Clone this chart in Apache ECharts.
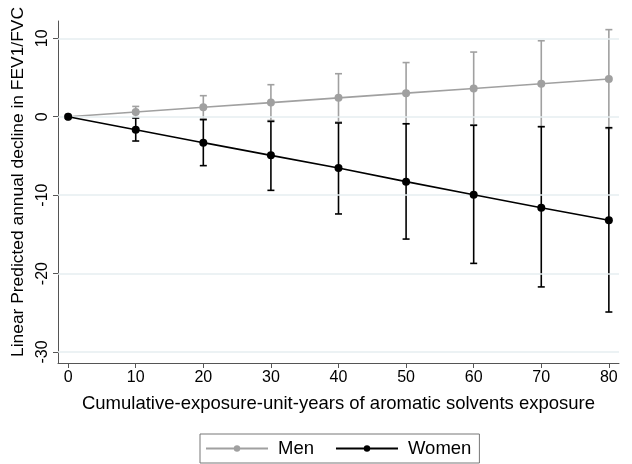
<!DOCTYPE html>
<html><head><meta charset="utf-8">
<script src="https://cdn.jsdelivr.net/npm/echarts@6/dist/echarts.min.js"></script>
<style>html,body{margin:0;padding:0;background:#fff}#c{width:632px;height:464px}</style>
</head><body><div id="c"></div>
<script>
var xValues = [0, 10, 20, 30, 40, 50, 60, 70, 80];
var menMean = [0, 0.6, 1.2, 1.8, 2.4, 3.0, 3.6, 4.2, 4.8];
var menLow  = [0, -0.11, -0.28, -0.48, -0.68, -0.9, -1.04, -1.28, -1.5];
var menHigh = [0, 1.31, 2.68, 4.08, 5.48, 6.9, 8.24, 9.68, 11.1];
var womenMean = [0, -1.66, -3.31, -4.93, -6.54, -8.28, -9.94, -11.6, -13.2];
var womenLow  = [0, -3.1, -6.24, -9.39, -12.4, -15.6, -18.7, -21.7, -24.9];
var womenHigh = [0, -0.17, -0.38, -0.6, -0.8, -0.9, -1.1, -1.27, -1.4];
var yTicks = [-30, -20, -10, 0, 10];
var xTicks = [0, 10, 20, 30, 40, 50, 60, 70, 80];

var FONT = 'Liberation Sans, Arial, sans-serif';
var GRAY = '#a0a0a0', BLACK = '#000000';

function pairs(xs, ys){ return xs.map(function(x,i){return [x, ys[i]];}); }
function ciData(xs, lo, hi){
  var out = [];
  xs.forEach(function(x,i){ if (x !== 0) out.push([x, lo[i], hi[i]]); });
  return out;
}
function errRender(color){
  return function(params, api){
    var x = api.value(0);
    var p1 = api.coord([x, api.value(1)]);
    var p2 = api.coord([x, api.value(2)]);
    var hw = 3.5;
    var st = {stroke: color, lineWidth: 1.6};
    return {type:'group', children:[
      {type:'line', shape:{x1:p1[0], y1:p1[1], x2:p2[0], y2:p2[1]}, style:st},
      {type:'line', shape:{x1:p1[0]-hw, y1:p1[1], x2:p1[0]+hw, y2:p1[1]}, style:st},
      {type:'line', shape:{x1:p2[0]-hw, y1:p2[1], x2:p2[0]+hw, y2:p2[1]}, style:st}
    ]};
  };
}

var chart = echarts.init(document.getElementById('c'), null, {renderer:'canvas'});
chart.setOption({
  animation: false,
  backgroundColor: '#fff',
  grid: {left: 58, right: 13, top: 21, bottom: 101, containLabel: false, outerBoundsMode: 'none'},
  xAxis: {
    type: 'value', min: -1.5, max: 81.5,
    name: 'Cumulative-exposure-unit-years of aromatic solvents exposure',
    nameLocation: 'middle', nameGap: 31,
    nameTextStyle: {fontFamily: FONT, fontSize: 18.5, color: '#000'},
    axisLine: {show: true, onZero: false, lineStyle: {color: '#555', width: 1}},
    axisTick: {show: true, length: 5, lineStyle: {color: '#555'}, customValues: xTicks},
    axisLabel: {fontFamily: FONT, fontSize: 16, color: '#000', margin: 7, customValues: xTicks},
    splitLine: {show: false}
  },
  yAxis: {
    type: 'value', min: -31.4, max: 12.2,
    name: 'Linear Predicted annual decline in FEV1/FVC',
    nameLocation: 'middle', nameGap: 29,
    nameTextStyle: {fontFamily: FONT, fontSize: 17.4, color: '#000', padding: [0, 0, 0, 20]},
    axisLine: {show: true, onZero: false, lineStyle: {color: '#555', width: 1}},
    axisTick: {show: true, length: 5, lineStyle: {color: '#555'}, customValues: yTicks},
    axisLabel: {fontFamily: FONT, fontSize: 16, color: '#000', rotate: 90, margin: 7, customValues: yTicks},
    splitLine: {show: false}
  },
  legend: {
    bottom: 1, left: 200,
    data: ['Men', 'Women'],
    itemWidth: 62, itemHeight: 8, itemGap: 21,
    borderColor: '#777', borderWidth: 1, borderRadius: 0,
    padding: [5, 8, 5, 5],
    textStyle: {fontFamily: FONT, fontSize: 18.5, color: '#000', padding: [0, 0, 0, 5]}
  },
  series: [
    {type:'line', name:'grid', data: [], silent: true, z: 1,
     markLine: {silent: true, symbol: 'none', label: {show: false},
       lineStyle: {color: '#e6eef0', width: 1.5, type: 'solid'},
       data: yTicks.map(function(v){ return {yAxis: v}; })}},
    {type:'custom', name:'menCI', renderItem: errRender(GRAY), data: ciData(xValues, menLow, menHigh), z: 2, silent: true},
    {type:'line', name:'Men', data: pairs(xValues, menMean), symbol:'circle', symbolSize: 8,
     itemStyle:{color: GRAY}, lineStyle:{color: GRAY, width: 1.6}, z: 3},
    {type:'custom', name:'womenCI', renderItem: errRender(BLACK), data: ciData(xValues, womenLow, womenHigh), z: 4, silent: true},
    {type:'line', name:'Women', data: pairs(xValues, womenMean), symbol:'circle', symbolSize: 8,
     itemStyle:{color: BLACK}, lineStyle:{color: BLACK, width: 1.6}, z: 5}
  ]
});
</script></body></html>
